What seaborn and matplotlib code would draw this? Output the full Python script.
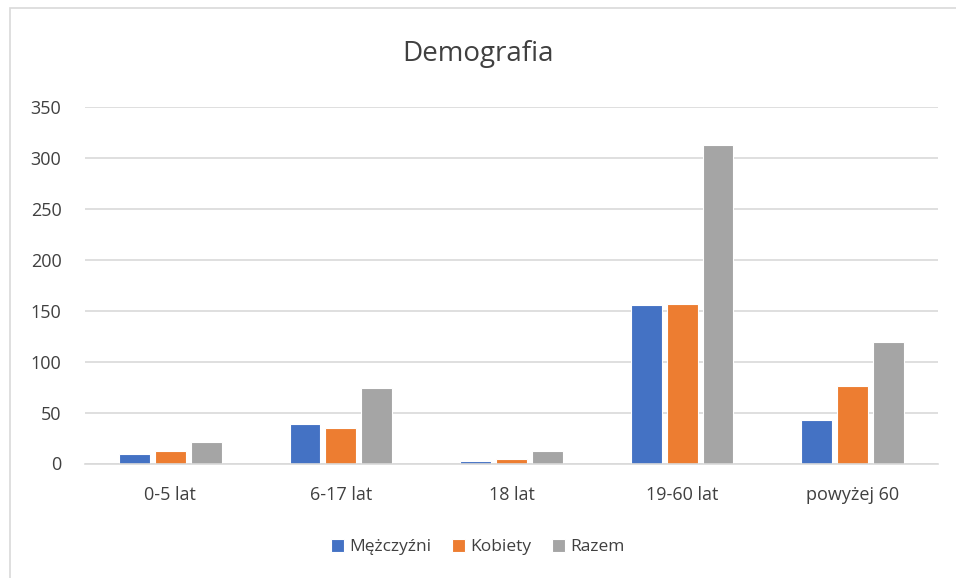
import matplotlib
matplotlib.use("Agg")
import matplotlib.pyplot as plt
import pandas as pd
import seaborn as sns
from matplotlib.patches import Rectangle

categories = ["0-5 lat", "6-17 lat", "18 lat", "19-60 lat", "powyżej 60"]
men = [9, 39, 2, 156, 43]
women = [12, 35, 4, 157, 76]
total = [21, 74, 12, 313, 119]
series = ["Mężczyźni", "Kobiety", "Razem"]
colors = ["#4472C4", "#ED7D31", "#A5A5A5"]
yticks = [0, 50, 100, 150, 200, 250, 300, 350]

df = pd.DataFrame({
    "kategoria": categories * 3,
    "seria": [series[0]] * 5 + [series[1]] * 5 + [series[2]] * 5,
    "wartosc": men + women + total,
})

sns.set_theme(style="white")
plt.rcParams["font.family"] = ["Open Sans", "DejaVu Sans"]
text_color = "#404040"

fig = plt.figure(figsize=(9.56, 5.78), dpi=100)
ax = fig.add_axes([85 / 956, 1 - 463.5 / 578, (938 - 85) / 956, (463.5 - 107) / 578])

sns.barplot(data=df, x="kategoria", y="wartosc", hue="seria", order=categories,
            hue_order=series, palette=colors, saturation=1, width=0.63, gap=0.14,
            edgecolor="white", linewidth=0.8, ax=ax)

ax.set_ylim(0, 350)
ax.set_yticks(yticks)
ax.set_xlim(-0.5, 4.5)
ax.yaxis.grid(True, color="#D9D9D9", linewidth=1.2)
ax.set_axisbelow(True)
for s in ["top", "right", "left"]:
    ax.spines[s].set_visible(False)
ax.spines["bottom"].set_color("#D9D9D9")
ax.spines["bottom"].set_linewidth(1.2)
ax.tick_params(axis="x", length=0, labelsize=13, colors=text_color, pad=16)
ax.tick_params(axis="y", length=0, labelsize=13, colors=text_color, pad=17)
ax.set_xlabel("")
ax.set_ylabel("")

fig.text(0.5, 1 - 54 / 578, "Demografia", ha="center", va="center",
         fontsize=20, color=text_color)

handles, labels = ax.get_legend_handles_labels()
ax.legend_.remove()
fig.legend(handles, labels, loc="center", bbox_to_anchor=(0.5, 1 - 547 / 578),
           ncol=3, frameon=False, fontsize=12.5, handlelength=0.75, handleheight=0.75,
           handletextpad=0.3, columnspacing=1.2, labelcolor=text_color)

fig.patches.append(Rectangle((10 / 956, -0.1), 1.0, 1 - 8 / 578 + 0.1,
                             transform=fig.transFigure, fill=False,
                             edgecolor="#D9D9D9", linewidth=1.2))

fig.savefig("out.png", dpi=100)
